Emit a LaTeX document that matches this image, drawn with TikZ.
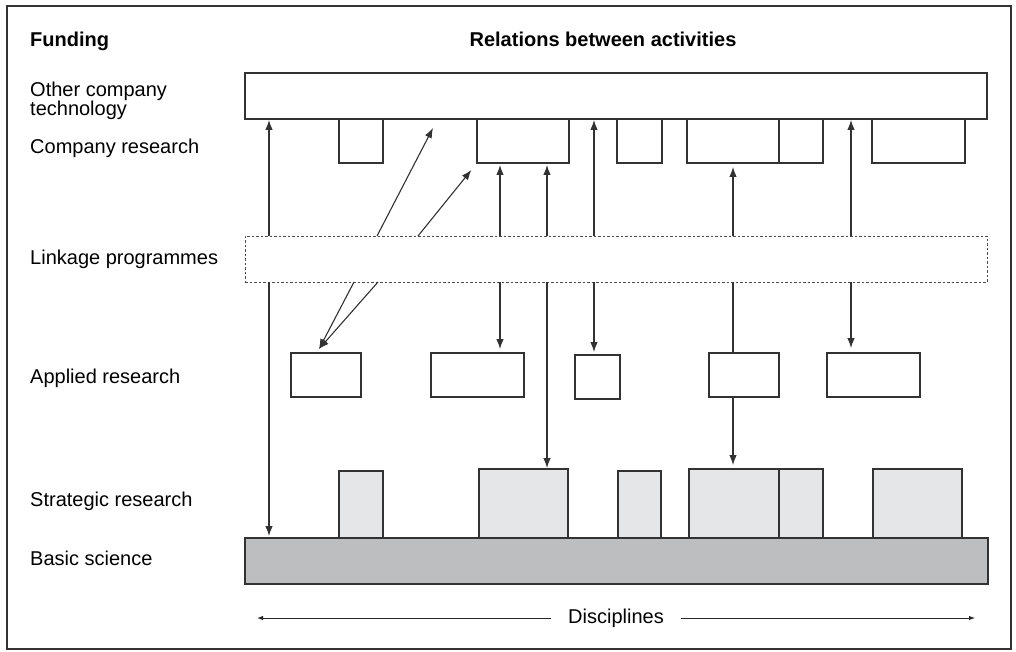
\documentclass[tikz,border=0pt]{standalone}
\usepackage{fontspec}
\setmainfont{Liberation Sans}
\usetikzlibrary{arrows.meta,calc}
\definecolor{edge}{RGB}{50,50,50}
\definecolor{stratfill}{RGB}{229,230,232}
\definecolor{basicfill}{RGB}{189,190,192}
\tikzset{
  box/.style={draw=edge, line width=1.1pt, fill=white, inner sep=0pt, outer sep=0pt, anchor=north west},
  sbox/.style={box, fill=stratfill},
  bbox/.style={box, fill=basicfill},
  dbox/.style={box, draw=black!70, line width=0.8pt, dash pattern=on 2.5pt off 2pt},
  arr/.style={draw=edge, line width=1.1pt, -{Latex[length=10pt,width=7.5pt]}},
  plain/.style={draw=edge, line width=1.1pt},
  darr/.style={draw=black!85, line width=1pt, -{Latex[length=6pt,width=4.5pt]}},
  lbl/.style={anchor=base west, inner sep=0pt},
}
\begin{document}
\begin{tikzpicture}[x=1pt, y=-1pt, font=\fontsize{20}{18}\selectfont]
\useasboundingbox (0,0) rectangle (1016,652);
\draw[draw=black!80, line width=1.4pt] (7,6) rectangle (1011,649);

% headings and labels
\node[lbl, font=\fontsize{20}{18}\selectfont\bfseries] (hf) at (30,47) {Funding};
\node[anchor=base, inner sep=0pt, font=\fontsize{20}{18}\selectfont\bfseries] (hr) at (603,47) {Relations between activities};
\node[anchor=north west, inner sep=0pt, align=left] (l1) at (30,81.5) {Other company\\technology};
\node[lbl] (l2) at (30,154) {Company research};
\node[lbl] (l3) at (30,264) {Linkage programmes};
\node[lbl] (l4) at (30,383) {Applied research};
\node[lbl] (l5) at (30,506) {Strategic research};
\node[lbl] (l6) at (30,565) {Basic science};

% big bands
\node[box, minimum width=742pt, minimum height=46pt] (T) at (245,73) {};
\node[dbox, minimum width=742pt, minimum height=46pt] (L) at (245,236) {};
\node[bbox, minimum width=743pt, minimum height=46pt] (B) at (245,538) {};

% company research
\node[box, minimum width=44pt, minimum height=44pt] (C1) at (339,119) {};
\node[box, minimum width=92pt, minimum height=44pt] (C2) at (477,119) {};
\node[box, minimum width=45pt, minimum height=44pt] (C3) at (617,119) {};
\node[box, minimum width=92pt, minimum height=44pt] (C4) at (687,119) {};
\node[box, minimum width=44pt, minimum height=44pt] (C5) at (779,119) {};
\node[box, minimum width=93pt, minimum height=44pt] (C6) at (872,119) {};

% applied research
\node[box, minimum width=70pt, minimum height=44pt] (A1) at (291,353) {};
\node[box, minimum width=93pt, minimum height=44pt] (A2) at (431,353) {};
\node[box, minimum width=45pt, minimum height=44pt] (A3) at (575,355) {};
\node[box, minimum width=70pt, minimum height=44pt] (A4) at (709,353) {};
\node[box, minimum width=93pt, minimum height=44pt] (A5) at (827,353) {};

% strategic research
\node[sbox, minimum width=44pt, minimum height=67pt] (S1) at (339,471) {};
\node[sbox, minimum width=89pt, minimum height=69pt] (S2) at (479,469) {};
\node[sbox, minimum width=43pt, minimum height=67pt] (S3) at (618,471) {};
\node[sbox, minimum width=90pt, minimum height=69pt] (S4) at (689,469) {};
\node[sbox, minimum width=44pt, minimum height=69pt] (S5) at (779,469) {};
\node[sbox, minimum width=89pt, minimum height=69pt] (S6) at (873,469) {};

% x positions of vertical connectors
\coordinate (ax1) at (269,0);
\coordinate (ax2) at (500,0);
\coordinate (ax3) at (547,0);
\coordinate (ax4) at (594,0);
\coordinate (ax5) at (733,0);
\coordinate (ax6) at (851,0);
\coordinate (d1) at (433,128);
\coordinate (a1t) at (319,349);

% upward connectors
\draw[arr, shorten >=1pt] (L.north -| ax1) -- (T.south -| ax1);
\draw[arr, shorten >=1pt] (L.north -| ax4) -- (T.south -| ax4);
\draw[arr, shorten >=1pt] (L.north -| ax6) -- (T.south -| ax6);
\draw[arr, shorten >=2pt] (L.north -| ax2) -- (C2.south -| ax2);
\draw[arr, shorten >=2pt] (L.north -| ax3) -- (C2.south -| ax3);
\draw[arr, shorten >=4pt] (L.north -| ax5) -- (C4.south -| ax5);
\draw[arr] ($(L.north west)+(132,0)$) -- (d1);
\draw[arr, shorten >=9pt] ($(L.north west)+(173,0)$) -- (C2.south west);

% downward connectors
\draw[arr, shorten >=2pt] (L.south -| ax1) -- (B.north -| ax1);
\draw[arr, shorten >=4pt] (L.south -| ax2) -- (A2.north -| ax2);
\draw[arr, shorten >=1pt] (L.south -| ax3) -- (S2.north -| ax3);
\draw[arr, shorten >=3pt] (L.south -| ax4) -- (A3.north -| ax4);
\draw[plain] (L.south -| ax5) -- (A4.north -| ax5);
\draw[arr, shorten >=4pt] (A4.south -| ax5) -- (S4.north -| ax5);
\draw[arr, shorten >=5pt] (L.south -| ax6) -- (A5.north -| ax6);
\draw[arr] ($(L.south west)+(109,0)$) -- (a1t);
\draw[arr] ($(L.south west)+(133,0)$) -- (a1t);

% disciplines axis
\node[inner xsep=17pt, inner ysep=0pt] (D) at (616,618) {Disciplines};
\coordinate (dl) at (257,618);
\coordinate (dr) at (975,618);
\draw[darr] (D.west) -- (dl);
\draw[darr] (D.east) -- (dr);
\end{tikzpicture}
\end{document}
